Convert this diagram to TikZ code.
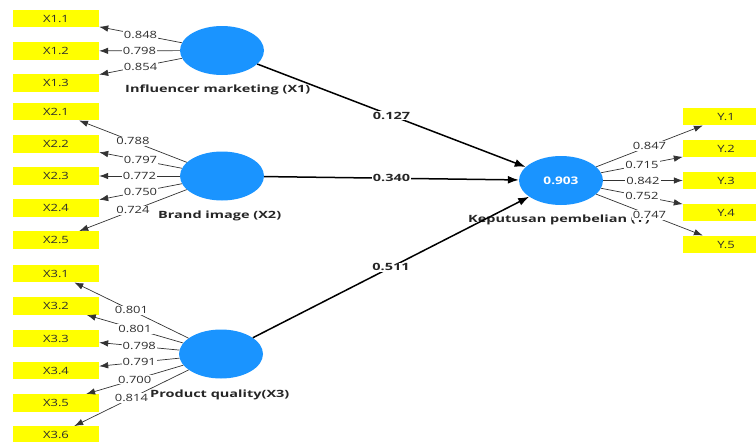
\documentclass[tikz,border=0pt]{standalone}
\usepackage{fontspec}
\setmainfont{Open Sans}[FakeStretch=1.3]
\newfontfamily\namefont{Open Sans}[FakeStretch=1.45]
\usetikzlibrary{arrows.meta,shapes.geometric}
\definecolor{lvblue}{RGB}{26,148,255}
\definecolor{indyellow}{RGB}{255,255,0}
\definecolor{txtgray}{RGB}{45,45,45}
\begin{document}
\begin{tikzpicture}[x=1pt,y=-1pt,
  indbox/.style={fill=indyellow, minimum width=86pt, minimum height=17.5pt, inner sep=0pt, font=\fontsize{10}{11}\selectfont, text=txtgray},
  latent/.style={shape=ellipse, fill=lvblue, minimum width=84pt, minimum height=49pt, inner sep=0pt, font=\fontsize{10.5}{11}\selectfont\bfseries, text=white},
  lvname/.style={font=\namefont\fontsize{10}{11}\selectfont\bfseries, text=black!85, inner sep=0pt, anchor=west},
  load/.style={draw=black!80, line width=0.7pt, -{Latex[length=9pt,width=6.5pt]}},
  path/.style={draw=black, line width=1.5pt, -{Latex[length=11pt,width=8pt]}},
  lbl/.style={fill=white, inner sep=1pt, font=\fontsize{10}{11}\selectfont, text=txtgray},
  plbl/.style={fill=white, inner sep=1pt, font=\namefont\fontsize{10}{11}\selectfont\bfseries, text=black!85}]
\useasboundingbox (0,0) rectangle (756,442);
% latent variables
\node[latent] (X1) at (222,50.5) {};
\node[latent] (X2) at (222,176) {};
\node[latent] (X3) at (221,354) {};
\node[latent] (Y) at (561,180.5) {0.903};
% names
\node[lvname] (nX1) at (125,90) {Influencer marketing (X1)};
\node[lvname] (nX2) at (158,216) {Brand image (X2)};
\node[lvname] (nX3) at (150,395) {Product quality(X3)};
\node[lvname] (nY) at (468,220) {Keputusan pembelian (Y)};
% indicators
\node[indbox] (x11) at (56,18.5) {X1.1};
\node[indbox] (x12) at (56,51) {X1.2};
\node[indbox] (x13) at (56,83) {X1.3};
\node[indbox] (x21) at (56,111.5) {X2.1};
\node[indbox] (x22) at (56,144) {X2.2};
\node[indbox] (x23) at (56,176) {X2.3};
\node[indbox] (x24) at (56,208) {X2.4};
\node[indbox] (x25) at (56,240) {X2.5};
\node[indbox] (x31) at (56,273.5) {X3.1};
\node[indbox] (x32) at (56,306) {X3.2};
\node[indbox] (x33) at (56,338.5) {X3.3};
\node[indbox] (x34) at (56,370.5) {X3.4};
\node[indbox] (x35) at (56,403) {X3.5};
\node[indbox] (x36) at (56,435) {X3.6};
\node[indbox] (y1) at (726,116.5) {Y.1};
\node[indbox] (y2) at (726,148.5) {Y.2};
\node[indbox] (y3) at (726,180.5) {Y.3};
\node[indbox] (y4) at (726,212.5) {Y.4};
\node[indbox] (y5) at (726,244.5) {Y.5};
% loadings
\draw[load] (X1) -- node[lbl] {0.848} (x11);
\draw[load] (X1) -- node[lbl] {0.798} (x12);
\draw[load] (X1) -- node[lbl] {0.854} (x13);
\draw[load] (X2) -- node[lbl] {0.788} (x21);
\draw[load] (X2) -- node[lbl] {0.797} (x22);
\draw[load] (X2) -- node[lbl] {0.772} (x23);
\draw[load] (X2) -- node[lbl] {0.750} (x24);
\draw[load] (X2) -- node[lbl] {0.724} (x25);
\draw[load] (X3) -- node[lbl] {0.801} (x31);
\draw[load] (X3) -- node[lbl] {0.801} (x32);
\draw[load] (X3) -- node[lbl] {0.798} (x33);
\draw[load] (X3) -- node[lbl] {0.791} (x34);
\draw[load] (X3) -- node[lbl] {0.700} (x35);
\draw[load] (X3) -- node[lbl] {0.814} (x36);
\draw[load] (Y) -- node[lbl] {0.847} (y1);
\draw[load] (Y) -- node[lbl] {0.715} (y2);
\draw[load] (Y) -- node[lbl] {0.842} (y3);
\draw[load] (Y) -- node[lbl] {0.752} (y4);
\draw[load] (Y) -- node[lbl] {0.747} (y5);
% structural paths
\draw[path] (X1) -- node[plbl] {0.127} (Y);
\draw[path] (X2) -- node[plbl] {0.340} (Y);
\draw[path] (X3) -- node[plbl] {0.511} (Y);
\end{tikzpicture}
\end{document}
